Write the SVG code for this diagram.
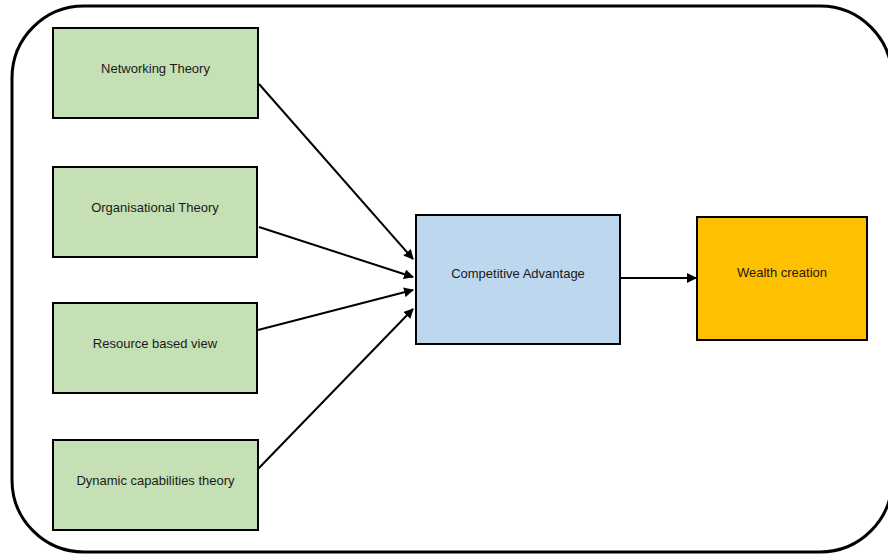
<svg xmlns="http://www.w3.org/2000/svg" width="888" height="554" viewBox="0 0 888 554">
  <style>
    .box { stroke: #000; stroke-width: 2; }
    .theory { fill: #c5e0b4; }
    .adv { fill: #bdd7ee; }
    .wealth { fill: #ffc000; }
    .label { font-family: "Liberation Sans", Arial, sans-serif; font-size: 13px; fill: #1a1a1a; text-anchor: middle; }
    .conn { stroke: #000; stroke-width: 2; fill: none; marker-end: url(#arrow); }
  </style>
  <defs>
    <marker id="arrow" viewBox="0 0 10 10" refX="9" refY="5" markerWidth="5" markerHeight="5" orient="auto" markerUnits="strokeWidth">
      <path d="M0,0 L10,5 L0,10 z" fill="#000"/>
    </marker>
  </defs>

  <rect width="888" height="554" fill="#fff"/>

  <!-- frame, right edge runs just past the canvas -->
  <rect x="12" y="6" width="880" height="546" rx="72" ry="72" fill="none" stroke="#000" stroke-width="3"/>

  <g id="networking">
    <rect class="box theory" x="53" y="28" width="205" height="90"/>
    <text class="label" x="155.5" y="73">Networking Theory</text>
  </g>
  <g id="organisational">
    <rect class="box theory" x="53" y="167" width="204" height="90"/>
    <text class="label" x="155" y="212">Organisational Theory</text>
  </g>
  <g id="resource">
    <rect class="box theory" x="53" y="303" width="204" height="90"/>
    <text class="label" x="155" y="348">Resource based view</text>
  </g>
  <g id="dynamic">
    <rect class="box theory" x="53" y="440" width="205" height="90"/>
    <text class="label" x="155.5" y="485">Dynamic capabilities theory</text>
  </g>
  <g id="competitive">
    <rect class="box adv" x="416" y="215" width="204" height="129"/>
    <text class="label" x="518" y="278">Competitive Advantage</text>
  </g>
  <g id="wealth">
    <rect class="box wealth" x="697" y="217" width="170" height="123"/>
    <text class="label" x="782" y="277">Wealth creation</text>
  </g>

  <g id="connectors">
    <line class="conn" x1="259" y1="84" x2="413" y2="259"/>
    <line class="conn" x1="259" y1="227" x2="413" y2="277"/>
    <line class="conn" x1="258" y1="330" x2="413" y2="290"/>
    <line class="conn" x1="258" y1="469" x2="413" y2="309"/>
    <line class="conn" x1="620" y1="278" x2="696" y2="278"/>
  </g>
</svg>
